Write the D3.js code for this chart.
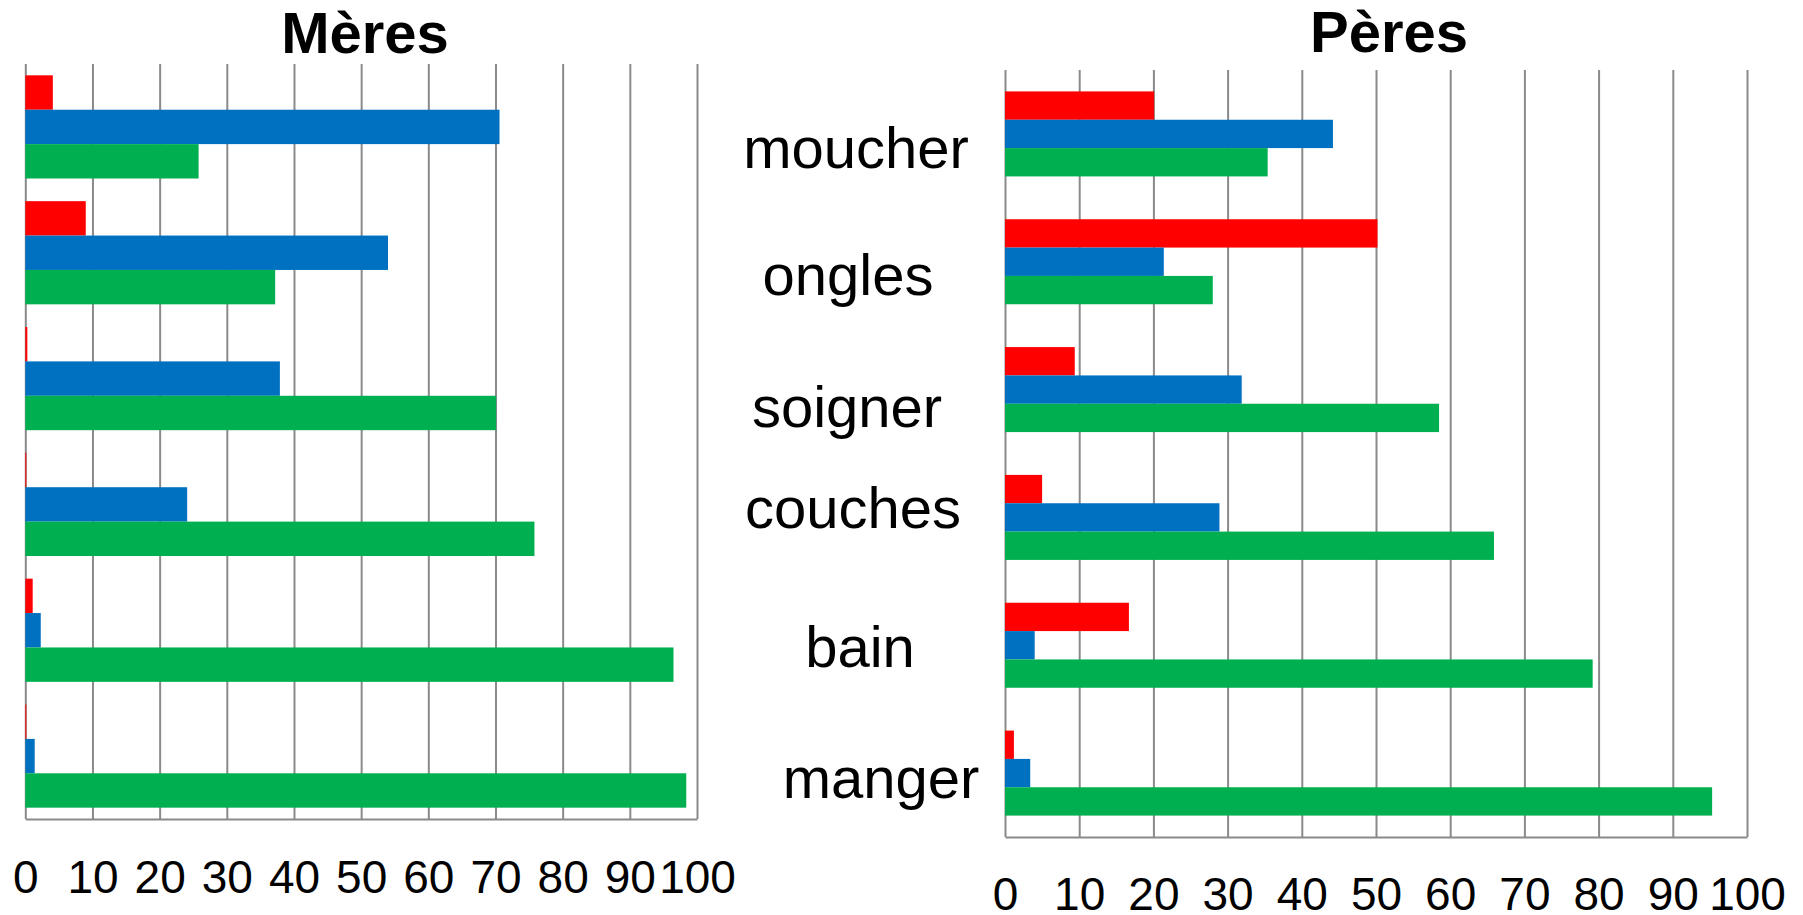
<!DOCTYPE html>
<html><head><meta charset="utf-8">
<script src="https://cdn.jsdelivr.net/npm/d3@7"></script>
<style>
body{margin:0;background:#fff}
text{font-family:"Liberation Sans",Arial,sans-serif}
</style>
</head><body><svg id="c" width="1803" height="915"></svg>
<script>
// ---- data ----
const categories = ["moucher","ongles","soigner","couches","bain","manger"];
const seriesKeys = ["rouge","bleu","vert"];
const meresRouge = [4.1, 9.0, 0.3, 0.15, 1.1, 0.15];
const meresBleu  = [70.6, 54.0, 37.9, 24.1, 2.3, 1.4];
const meresVert  = [25.8, 37.2, 70.1, 75.8, 96.5, 98.4];
const peresRouge = [20.1, 50.2, 9.4, 5.0, 16.7, 1.2];
const peresBleu  = [44.2, 21.4, 31.9, 28.9, 4.0, 3.4];
const peresVert  = [35.4, 28.0, 58.5, 65.9, 79.2, 95.3];
const xTicks = [0,10,20,30,40,50,60,70,80,90,100];
const titles = ["Mères","Pères"];

// ---- styles / layout ----
const colors = {rouge:"#FF0000", bleu:"#0070C0", vert:"#00B050"};
const gridColor = "#8a8a8a";
const panels = [
  {title:titles[0], series:[meresRouge,meresBleu,meresVert], x0:25.3, x1:697, y0:64, y1:819,
   padInner:0.18, padOuter:0.09, tickBase:74, titleX:365, titleY:53, showLabels:false},
  {title:titles[1], series:[peresRouge,peresBleu,peresVert], x0:1005, x1:1747, y0:70, y1:837,
   padInner:0.335, padOuter:0.1675, tickBase:73, titleX:1389, titleY:52, showLabels:true}
];
// label placement (center x, baseline offset from group center)
const labelLayout = [[856,34],[848,33],[847,37],[853,11],[860,22],[881,25]];

const svg = d3.select("#c");

panels.forEach(p => {
  const x = d3.scaleLinear().domain([0,100]).range([p.x0,p.x1]);
  const y = d3.scaleBand().domain(categories).range([p.y0,p.y1])
              .paddingInner(p.padInner).paddingOuter(p.padOuter);
  const ys = d3.scaleBand().domain(seriesKeys).range([0,y.bandwidth()]);

  // axis + gridlines
  const ax = svg.append("g").attr("transform",`translate(0,${p.y1})`)
    .call(d3.axisBottom(x).tickValues(xTicks).tickFormat(d=>String(d))
      .tickSize(-(p.y1-p.y0)).tickSizeOuter(0));
  ax.attr("font-family",null).attr("font-size",null);
  ax.select(".domain").attr("stroke",gridColor).attr("stroke-width",2);
  ax.selectAll(".tick line").attr("stroke",gridColor).attr("stroke-width",2);
  ax.selectAll(".tick text").attr("y",p.tickBase).attr("dy",null)
    .attr("fill","#000").style("font-size","46px");

  // bars
  const rows = categories.map((c,i)=>({cat:c, vals:seriesKeys.map((k,j)=>({key:k, v:p.series[j][i]}))}));
  const g = svg.append("g");
  const grp = g.selectAll("g.grp").data(rows).join("g").attr("class","grp")
    .attr("transform",d=>`translate(0,${y(d.cat)})`);
  grp.selectAll("rect").data(d=>d.vals).join("rect")
    .attr("x",x(0)).attr("y",d=>ys(d.key))
    .attr("width",d=>Math.max(0,x(d.v)-x(0))).attr("height",ys.bandwidth())
    .attr("fill",d=>colors[d.key]);

  // title
  svg.append("text").attr("x",p.titleX).attr("y",p.titleY).attr("text-anchor","middle")
    .style("font-size","58px").style("font-weight","bold").text(p.title);

  // category labels
  if (p.showLabels) {
    svg.append("g").selectAll("text").data(categories).join("text")
      .attr("x",(d,i)=>labelLayout[i][0])
      .attr("y",(d,i)=>y(d)+y.bandwidth()/2+labelLayout[i][1])
      .attr("text-anchor","middle").style("font-size","58px").text(d=>d);
  }
});
</script>
</body></html>
